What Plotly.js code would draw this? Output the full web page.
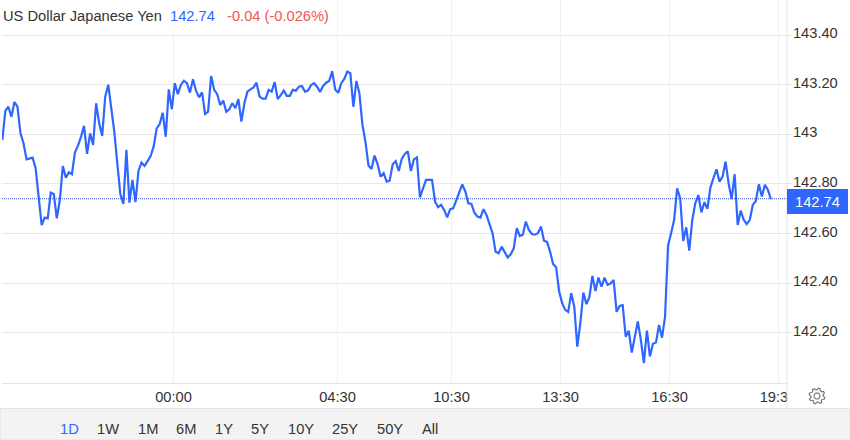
<!DOCTYPE html>
<html><head><meta charset="utf-8">
<script src="https://cdn.plot.ly/plotly-3.0.1.min.js"></script>
<style>html,body{margin:0;padding:0;background:#fff;overflow:hidden}#c{width:850px;height:440px}</style>
</head><body><div id="c"></div>
<script>
const prices=[142.977,143.095,143.111,143.071,143.130,143.111,143.004,142.964,142.899,142.903,142.906,142.863,142.749,142.634,142.664,142.661,142.765,142.759,142.661,142.735,142.872,142.825,142.847,142.839,142.927,142.954,142.990,143.034,142.921,143.004,142.957,143.125,143.044,142.993,143.152,143.200,143.105,143.011,142.883,142.758,142.719,142.937,142.724,142.816,142.726,142.853,142.886,142.872,142.892,142.912,142.950,143.024,143.041,143.087,142.990,143.181,143.101,143.206,143.162,143.199,143.216,143.206,143.168,143.222,143.176,143.149,143.169,143.082,143.091,143.235,143.179,143.162,143.118,143.136,143.091,143.101,143.125,143.105,143.142,143.051,143.125,143.172,143.181,143.189,143.208,143.152,143.144,143.144,143.179,143.172,143.211,143.142,143.158,143.176,143.155,143.155,143.179,143.176,143.192,143.195,143.172,143.176,143.198,143.206,143.192,143.171,143.195,143.208,143.215,143.254,143.181,143.167,143.206,143.223,143.253,143.246,143.111,143.215,143.165,143.038,142.970,142.874,142.860,142.914,142.880,142.829,142.843,142.809,142.813,142.879,142.892,142.852,142.901,142.921,142.931,142.852,142.899,142.907,142.746,142.782,142.816,142.816,142.816,142.728,142.706,142.715,142.695,142.665,142.698,142.701,142.735,142.769,142.798,142.769,142.722,142.719,142.684,142.668,142.664,142.698,142.675,142.638,142.601,142.526,142.520,142.547,142.524,142.503,142.516,142.540,142.621,142.590,142.595,142.648,142.614,142.598,142.595,142.601,142.628,142.571,142.566,142.527,142.477,142.464,142.366,142.319,142.292,142.284,142.359,142.305,142.144,142.238,142.362,142.315,142.343,142.429,142.368,142.422,142.386,142.422,142.393,142.398,142.413,142.284,142.308,142.311,142.184,142.208,142.120,142.184,142.245,142.171,142.077,142.208,142.104,142.155,142.160,142.231,142.180,142.265,142.552,142.601,142.655,142.782,142.742,142.570,142.625,142.531,142.655,142.722,142.755,142.685,142.726,142.699,142.786,142.823,142.859,142.809,142.829,142.890,142.802,142.739,142.839,142.634,142.692,142.655,142.638,142.655,142.715,142.731,142.798,142.749,142.796,142.775,142.738];
const lastPrice=142.74;
const yTicks=[142.2,142.4,142.6,142.8,143,143.2,143.4];
const yLabels=['142.20','142.40','142.60','142.80','143','143.20','143.40'];
const xTickPos=[56.56,110.76,148.43,184.45,220.47,256.33];
const xLabels=['00:00','04:30','10:30','13:30','16:30','19:30'];
const ranges=['1D','1W','1M','6M','1Y','5Y','10Y','25Y','50Y','All'];
const rangeCenters=[69,108,148,186,224,260,301,345,390,430];

const BLUE='#2f66ff',TXT='#333333',W=785,H=383,L=2,FS=14.67;
const px=x=>(x-L)/W, py=y=>1-y/H;
const xs=prices.map((_,i)=>i);
const rect=(x0,y0,x1,y1,fill,line)=>({type:'rect',xref:'paper',yref:'paper',layer:'above',x0:px(x0),x1:px(x1),y0:py(y0),y1:py(y1),fillcolor:fill,line:{width:line?1:0,color:line||fill}});
function gear(cx,cy){let d='';const n=8;
 for(let i=0;i<n*4;i++){const a=(i/(n*4))*2*Math.PI+Math.PI/8*0.5;const r=(i%4<2)?8:6.2;
  d+=(i?'L':'M')+px(cx+r*Math.cos(a))+','+py(cy+r*Math.sin(a));}
 d+='Z';
 for(let i=0;i<20;i++){const a=i/20*2*Math.PI;d+=(i?'L':'M')+px(cx+3*Math.cos(a))+','+py(cy+3*Math.sin(a));}
 return d+'Z';}
const shapes=[
 {type:'line',xref:'paper',yref:'y',x0:0,x1:1,y0:lastPrice,y1:lastPrice,layer:'above',line:{color:'#2a52d8',width:1,dash:'1px,1px'}},
 rect(0,0,335,29,'#ffffff'),
 rect(787.5,384,850,407,'#ffffff'),
 {type:'line',xref:'paper',yref:'paper',x0:px(787),x1:px(787),y0:py(0),y1:py(408),layer:'above',line:{color:'#e4e4e4',width:1}},
 rect(0,408.5,850,440,'#f3f3f3','#e2e2e2'),
 rect(787,189,848,214,BLUE),
 {type:'path',xref:'paper',yref:'paper',layer:'above',path:gear(817,396),line:{color:'#777777',width:1.2},fillcolor:'rgba(0,0,0,0)'}
];
const ann=(x,y,text,color,anchor,size)=>({xref:'paper',yref:'paper',x:px(x),y:py(y),text,showarrow:false,xanchor:anchor||'center',yanchor:'middle',font:{family:'Liberation Sans, Arial, sans-serif',size:size||FS,color:color||TXT},borderpad:0,borderwidth:0});
const annotations=[
 ann(3,15.5,'US Dollar Japanese Yen  <span style="color:'+BLUE+'">142.74</span>   <span style="color:#f25555">-0.04 (-0.026%)</span>',TXT,'left'),
 ann(817.5,202,'142.74','#ffffff','center',FS),
 ...ranges.map((r,i)=>ann(rangeCenters[i],428.5,r,i===0?BLUE:TXT))
];
Plotly.newPlot('c',[{x:xs,y:prices,type:'scatter',mode:'lines',line:{color:BLUE,width:2.2,shape:'linear'},hoverinfo:'skip'}],{
 width:850,height:440,margin:{l:L,r:63,t:0,b:57,pad:0},paper_bgcolor:'#fff',plot_bgcolor:'#fff',showlegend:false,
 font:{family:'Liberation Sans, Arial, sans-serif',size:FS,color:TXT},
 xaxis:{range:[-0.11,259.3],tickmode:'array',tickvals:xTickPos,ticktext:xLabels,showgrid:true,gridcolor:'#eff1f3',gridwidth:1,zeroline:false,showline:true,linecolor:'#e4e4e4',linewidth:1,ticks:'',tickfont:{size:FS,color:TXT},automargin:false},
 yaxis:{side:'right',range:[141.997,143.5415],tickmode:'array',tickvals:yTicks,ticktext:yLabels,showgrid:true,gridcolor:'#e8e8e8',gridwidth:1,zeroline:false,showline:false,ticks:'outside',ticklen:4,tickcolor:'#e4e4e4',tickwidth:1,tickfont:{size:FS,color:TXT},ticklabelshift:-2,ticklabelstandoff:-2,automargin:false},
 shapes,annotations
},{displayModeBar:false,staticPlot:true});
</script></body></html>
